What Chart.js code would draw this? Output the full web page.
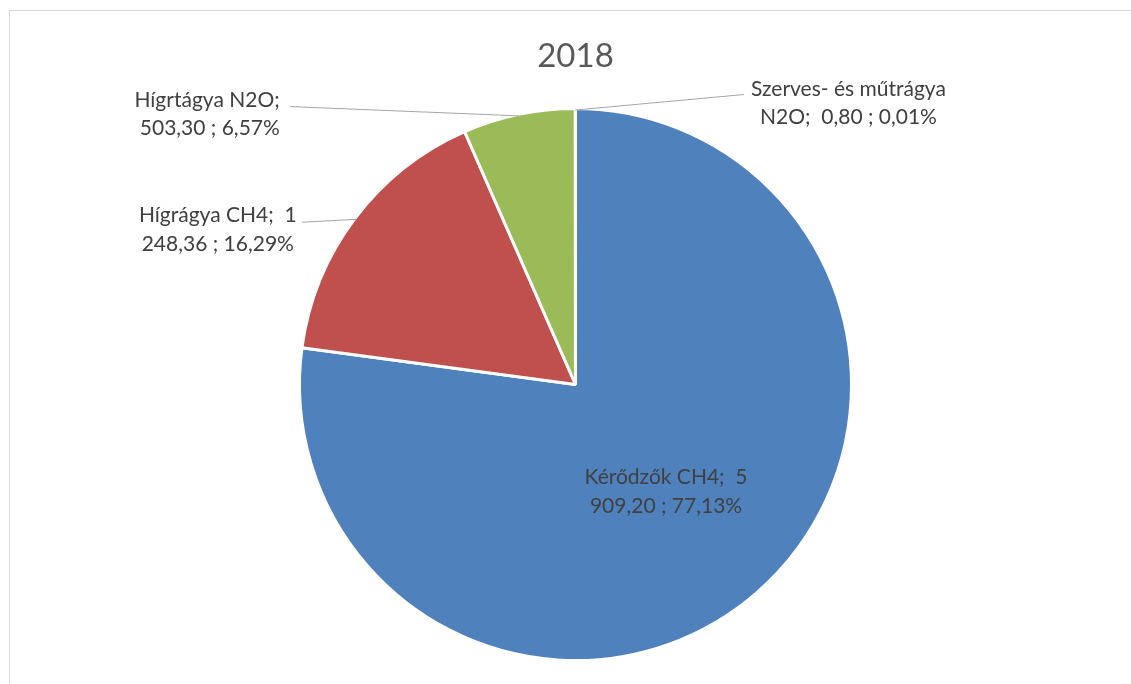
<!DOCTYPE html>
<html>
<head>
<meta charset="utf-8">
<script src="https://cdn.jsdelivr.net/npm/chart.js@4.4.1/dist/chart.umd.min.js"></script>
<style>
  html, body { margin: 0; padding: 0; background: #ffffff; overflow: hidden; }
  #frame { position: absolute; left: 9px; top: 10px; width: 1200px; height: 800px; border: 1px solid #d9d9d9; box-sizing: border-box; }
  #c { position: absolute; left: 0; top: 0; }
</style>
</head>
<body>
<div id="frame"></div>
<canvas id="c" width="1131" height="684"></canvas>
<script>
// ---- data ----
const chartTitle = "2018";
const categories = ["Kérődzők CH4", "Hígrágya CH4", "Hígrtágya N2O", "Szerves- és műtrágya N2O"];
const values = [5909.20, 1248.36, 503.30, 0.80];
const colors = ["#4F81BD", "#C0504D", "#9BBB59", "#9BBB59"];

// ---- label layout (relative to pie centre, in units of radius) ----
const labelCenterX = [0.328, -1.296, -1.325, 0.989];
const labelBaseY = [0.361, -0.588, -1.007, -1.047];
const labelWrapWidth = [205, 199, 193, 230];
const labelLeader = [false, true, true, true];

const LABEL_FONT = "21px Lato";
const LINE_H = 28.5;

function fmtHu(v) {
  const parts = v.toFixed(2).split(".");
  const intp = parts[0].replace(/\B(?=(\d{3})+(?!\d))/g, " ");
  return intp + "," + parts[1];
}
function labelText(i) {
  const total = values.reduce((a, b) => a + b, 0);
  const pct = (values[i] / total * 100).toFixed(2).replace(".", ",") + "%";
  return categories[i] + ";  " + fmtHu(values[i]) + " ; " + pct;
}
function wrap(ctx, text, maxW) {
  const lines = [];
  let rest = text;
  while (ctx.measureText(rest).width > maxW) {
    let best = -1;
    for (let k = 0; k < rest.length; k++) {
      if (rest[k] === " " && rest[k + 1] !== " ") {
        if (ctx.measureText(rest.slice(0, k)).width <= maxW) best = k; else break;
      }
    }
    if (best < 0) break;
    lines.push(rest.slice(0, best));
    rest = rest.slice(best + 1);
  }
  lines.push(rest);
  return lines;
}

const labelPlugin = {
  id: "excelLabels",
  afterDraw(chart) {
    const ctx = chart.ctx;
    const arcs = chart.getDatasetMeta(0).data;
    const cx = arcs[0].x, cy = arcs[0].y, r = arcs[0].outerRadius;
    ctx.save();
    // title
    ctx.fillStyle = "#595959";
    ctx.font = "33px Lato";
    ctx.textAlign = "center";
    ctx.textBaseline = "alphabetic";
    ctx.fillText(chartTitle, cx, 67);

    ctx.font = LABEL_FONT;
    arcs.forEach((arc, i) => {
      const lines = wrap(ctx, labelText(i), labelWrapWidth[i]);
      const tx = cx + labelCenterX[i] * r;
      const ty = cy + labelBaseY[i] * r;
      if (labelLeader[i]) {
        const mid = (arc.startAngle + arc.endAngle) / 2;
        const ax = cx + Math.cos(mid) * (arc.outerRadius - 1.5);
        const ay = cy + Math.sin(mid) * (arc.outerRadius - 1.5);
        const w1 = ctx.measureText(lines[0]).width;
        let ex, ey;
        if (tx < cx) { ex = tx + w1 / 2 + 5; ey = ty; }
        else { ex = tx - w1 / 2 - 7; ey = ty - 1; }
        ctx.strokeStyle = "#A6A6A6";
        ctx.lineWidth = 1;
        ctx.beginPath();
        ctx.moveTo(ax, ay);
        ctx.lineTo(ex, ey);
        ctx.stroke();
      }
      ctx.fillStyle = "#404040";
      ctx.textAlign = "center";
      lines.forEach((ln, k) => ctx.fillText(ln, tx, ty + k * LINE_H));
    });
    ctx.restore();
  }
};

new Chart(document.getElementById("c"), {
  type: "pie",
  data: {
    labels: categories,
    datasets: [{
      data: values,
      backgroundColor: colors,
      borderColor: "#ffffff",
      borderWidth: 3,
      hoverBorderWidth: 3
    }]
  },
  options: {
    responsive: false,
    devicePixelRatio: 1,
    animation: false,
    layout: { padding: { left: 20, right: 0, top: 107, bottom: 22 } },
    plugins: { legend: { display: false }, tooltip: { enabled: false }, title: { display: false } }
  },
  plugins: [labelPlugin]
});
</script>
</body>
</html>
